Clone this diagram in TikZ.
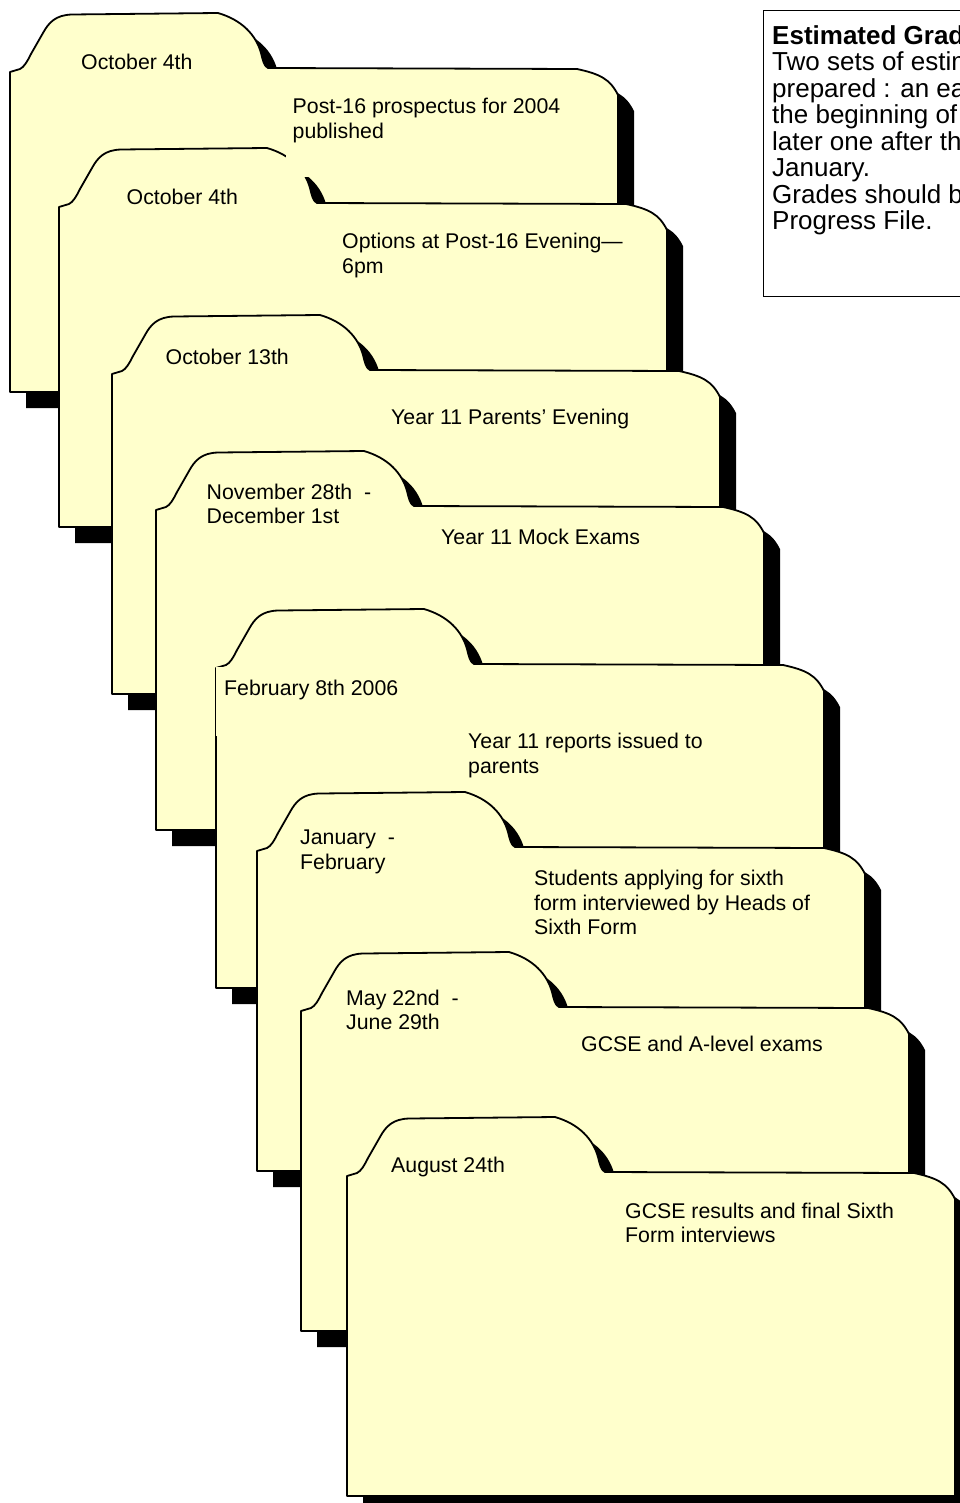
\documentclass[tikz,border=0pt]{standalone}
\usepackage{fontspec}
\setmainfont{Liberation Sans}
\definecolor{fy}{HTML}{FFFFCC}
\tikzset{
  folderline/.style={draw=black, fill=fy, line width=1.8pt, line join=round},
  fshadow/.style={fill=black},
  datelbl/.style={anchor=north west, inner sep=0pt, align=left, font=\fontsize{21.3}{24.5}\selectfont},
  desclbl/.style={anchor=north west, inner sep=0pt, align=left, font=\fontsize{21.3}{24.5}\selectfont},
  notelbl/.style={anchor=north west, inner sep=0pt, align=left, font=\fontsize{26}{26.5}\selectfont},
  notebox/.style={draw=black, line width=1pt},
  folder/.pic={
    \fill[fshadow, shift={(16,16)}] (0,59) -- (10,56) .. controls (14,54) and (17,49) .. (21,41) -- (33,20) .. controls (39,9) and (46,2) .. (62,1.5) -- (208,0) .. controls (232,7) and (246,22) .. (251,40) .. controls (253,48) and (254,53) .. (258,55) -- (567,56) .. controls (590,61) and (600,66) .. (608,82) -- (608,379) -- (0,379) -- cycle;
    \path[folderline] (0,59) -- (10,56) .. controls (14,54) and (17,49) .. (21,41) -- (33,20) .. controls (39,9) and (46,2) .. (62,1.5) -- (208,0) .. controls (232,7) and (246,22) .. (251,40) .. controls (253,48) and (254,53) .. (258,55) -- (567,56) .. controls (590,61) and (600,66) .. (608,82) -- (608,379) -- (0,379) -- cycle;
  }
}
\begin{document}
\begin{tikzpicture}[x=1pt,y=-1pt]
\useasboundingbox (0,0) rectangle (960,1503);
\clip (0,0) rectangle (960,1503);

% folder 1
\pic (f1) at (10,13) {folder};
\node[datelbl] (d1) at (81,53.6) {October 4th};

% folder 2
\pic (f2) at (59,148) {folder};
\node[datelbl] (d2) at (126.5,188.6) {October 4th};
\node[desclbl] (t2) at (342,233) {Options at Post-16 Evening—\\6pm};
% text area of folder 1 lies over the tab of folder 2
\fill[fy] (286,86) rectangle (600,177);
\node[desclbl] (t1) at (292.5,98) {Post-16 prospectus for 2004\\published};

% folder 3
\pic (f3) at (112,315) {folder};
\node[datelbl] (d3) at (165.5,348.6) {October 13th};
\node[desclbl] (t3) at (391,408.6) {Year 11 Parents’ Evening};

% folder 4
\pic (f4) at (156,451) {folder};
\node[datelbl] (d4) at (206.5,483.6) {November 28th~~-\\December 1st};
\node[desclbl] (t4) at (441,528.6) {Year 11 Mock Exams};

% folder 5
\pic (f5) at (216,609) {folder};
\fill[fy] (215.8,667) rectangle (330,736);
\node[datelbl] (d5) at (224,680) {February 8th 2006};
\node[desclbl] (t5) at (468,733) {Year 11 reports issued to\\parents};

% folder 6
\pic (f6) at (257,792) {folder};
\node[datelbl] (d6) at (300,830) {January~~-\\February};
\node[desclbl] (t6) at (534,870) {Students applying for sixth\\form interviewed by Heads of\\Sixth Form};

% folder 7
\pic (f7) at (301,952) {folder};
\node[datelbl] (d7) at (346,989.6) {May 22nd~~-\\June 29th};
\node[desclbl] (t7) at (581,1036) {GCSE and A-level exams};

% folder 8
\pic (f8) at (347,1117) {folder};
\node[datelbl] (d8) at (391,1156.6) {August 24th};
\node[desclbl] (t8) at (625,1202.6) {GCSE results and final Sixth\\Form interviews};

% note box
\draw[notebox] (763,11) rectangle (1000,297);
\node[notelbl] (n1) at (772,25.4) {\textbf{Estimated Grades}\\Two sets of estimated\\prepared : an early\\the beginning of\\later one after the\\January.\\Grades should be\\Progress File.};
\end{tikzpicture}
\end{document}
